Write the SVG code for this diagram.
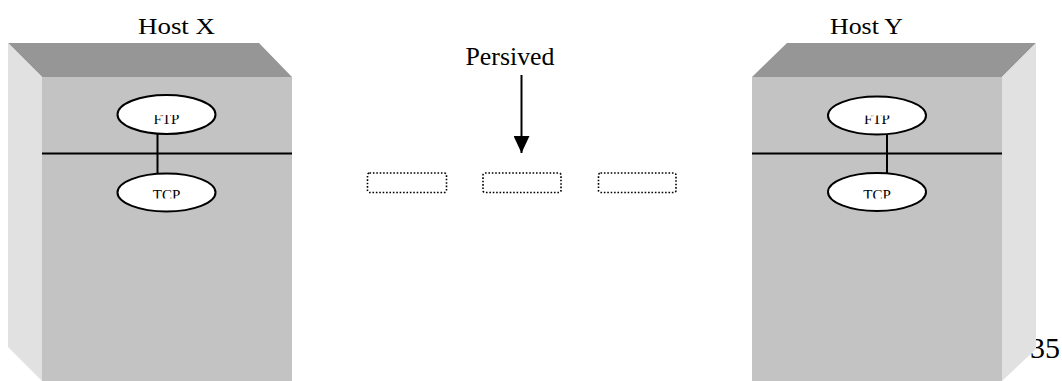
<svg xmlns="http://www.w3.org/2000/svg" width="1062" height="381" viewBox="0 0 1062 381">
<style>
.t{font-family:"Liberation Serif","Times New Roman",serif;fill:#000}
.top{fill:#969696}
.front{fill:#c3c3c3}
.side{fill:#e1e1e1}
.ell{fill:#fff;stroke:#000;stroke-width:2}
.ln{stroke:#000;stroke-width:2;fill:none}
.dot{fill:none;stroke:#000;stroke-width:1.6;stroke-dasharray:1.6 1.8}
</style>
<defs>
<marker id="ah" viewBox="0 0 17 16" refX="17" refY="8" markerWidth="17" markerHeight="16" markerUnits="userSpaceOnUse" orient="auto">
<path d="M0,0 L17,8 L0,16 z" fill="#000"/>
</marker>
<clipPath id="cx1"><rect x="100" y="115" width="140" height="30"/></clipPath>
<clipPath id="cx2"><rect x="100" y="170" width="140" height="28.5"/></clipPath>
<clipPath id="cy1"><rect x="810" y="115.5" width="140" height="30"/></clipPath>
<clipPath id="cy2"><rect x="810" y="170" width="140" height="28.5"/></clipPath>
</defs>
<text class="t" x="1030" y="358" font-size="30">35</text>
<g id="hostX">
<text class="t" x="176.5" y="33.5" font-size="24" text-anchor="middle" textLength="77" lengthAdjust="spacingAndGlyphs">Host X</text>
<polygon class="top" points="8,43 259,43 292,77 42,77"/>
<polygon class="side" points="8,43 42,77 42,381 8,347"/>
<rect class="front" x="42" y="77" width="250" height="304"/>
<line class="ln" x1="42" y1="153.5" x2="292" y2="153.5"/>
</g>
<g id="hostY">
<text class="t" x="866.5" y="33.5" font-size="24" text-anchor="middle" textLength="73" lengthAdjust="spacingAndGlyphs">Host Y</text>
<polygon class="top" points="787,43 1036,43 1002,77 752,77"/>
<polygon class="side" points="1002,77 1036,43 1036,349 1002,381"/>
<rect class="front" x="752" y="77" width="250" height="304"/>
<line class="ln" x1="752" y1="153.5" x2="1002" y2="153.5"/>
</g>
<g id="connectors">
<line class="ln" x1="157.5" y1="134" x2="157.5" y2="173"/>
<line class="ln" x1="887" y1="134.5" x2="887" y2="173"/>
<line class="ln" x1="521.5" y1="75" x2="521.5" y2="153" marker-end="url(#ah)"/>
</g>
<g id="ftpX">
<ellipse class="ell" cx="166.5" cy="114.5" rx="49" ry="19.5"/>
<text class="t" x="166.5" y="123.5" font-size="15" text-anchor="middle" clip-path="url(#cx1)">FTP</text>
</g>
<g id="tcpX">
<ellipse class="ell" cx="166.5" cy="192.5" rx="49" ry="19"/>
<text class="t" x="166.5" y="200" font-size="15" text-anchor="middle" clip-path="url(#cx2)">TCP</text>
</g>
<g id="ftpY">
<ellipse class="ell" cx="877" cy="115.5" rx="49" ry="19"/>
<text class="t" x="877" y="124" font-size="15" text-anchor="middle" clip-path="url(#cy1)">FTP</text>
</g>
<g id="tcpY">
<ellipse class="ell" cx="877" cy="192" rx="49" ry="19"/>
<text class="t" x="877" y="200" font-size="15" text-anchor="middle" clip-path="url(#cy2)">TCP</text>
</g>
<g id="persived">
<text class="t" x="510" y="65" font-size="25" text-anchor="middle" textLength="89" lengthAdjust="spacingAndGlyphs">Persived</text>
</g>
<g id="seg1"><rect class="dot" x="367.5" y="173" width="79" height="19.5" rx="2"/></g>
<g id="seg2"><rect class="dot" x="483" y="173" width="78" height="19.5" rx="2"/></g>
<g id="seg3"><rect class="dot" x="598.5" y="173" width="77.5" height="19.5" rx="2"/></g>
</svg>
